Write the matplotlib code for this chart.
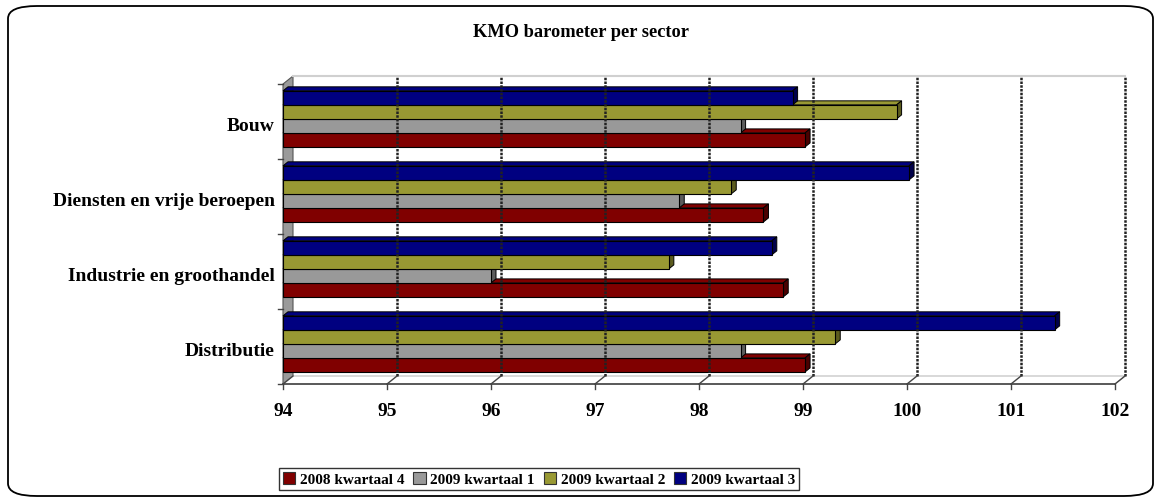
import matplotlib.pyplot as plt
import matplotlib.transforms as mtransforms
from matplotlib.patches import Polygon, FancyBboxPatch, Patch
import numpy as np

plt.rcParams['font.family'] = ['Liberation Serif', 'DejaVu Serif']
plt.rcParams['font.weight'] = 'bold'

sectors = ['Distributie', 'Industrie en groothandel', 'Diensten en vrije beroepen', 'Bouw']
series = ['2008 kwartaal 4', '2009 kwartaal 1', '2009 kwartaal 2', '2009 kwartaal 3']
q4_2008 = [99.02, 98.81, 98.62, 99.02]
q1_2009 = [98.40, 96.00, 97.81, 98.40]
q2_2009 = [99.31, 97.71, 98.31, 99.90]
q3_2009 = [101.42, 98.70, 100.02, 98.90]
xticks = [94, 95, 96, 97, 98, 99, 100, 101, 102]

values = [q4_2008, q1_2009, q2_2009, q3_2009]
front_cols = ['#800000', '#999999', '#999933', '#000080']
side_cols = ['#4a0000', '#5c5c5c', '#5c5c1e', '#00004a']

W, H = 1161, 502
fig = plt.figure(figsize=(W / 100, H / 100), dpi=100)

# rounded chart frame
frame = FancyBboxPatch((8 / W, 5 / H), 1145 / W, 490 / H,
                       boxstyle='round,pad=0,rounding_size=0.025',
                       transform=fig.transFigure, fc='white', ec='black', lw=1.3, zorder=-10)
fig.patches.append(frame)

fig.text(581 / W, 1 - 33 / H, 'KMO barometer per sector', ha='center', va='center', fontsize=13.2)

ax = fig.add_axes([283 / W, 1 - 385 / H, (1115 - 283) / W, (385 - 85) / H])
ax.set_xlim(94, 102)
ax.set_ylim(-0.5, 3.5)
ax.axis('off')

# back plane offset (depth)
back = ax.transData + mtransforms.ScaledTranslation(10 / 100, 8 / 100, fig.dpi_scale_trans)
inv = ax.transData.inverted()

# left wall
p0 = ax.transData.transform([(94, -0.5), (94, 3.5)])
p1 = back.transform([(94, 3.5), (94, -0.5)])
wall = inv.transform(np.vstack([p0, p1]))
ax.add_patch(Polygon(wall, closed=True, fc='#9a9a9a', ec='#555555', lw=0.8, clip_on=False))

# floor
f0 = ax.transData.transform([(94, -0.5), (102, -0.5)])
f1 = back.transform([(102, -0.5), (94, -0.5)])
floor = inv.transform(np.vstack([f0, f1]))
ax.add_patch(Polygon(floor, closed=True, fc='white', ec='#bbbbbb', lw=0.8, clip_on=False))
ax.plot([94, 102], [-0.5, -0.5], color='#444444', lw=1.2, clip_on=False)

# back wall edges and gridlines
ax.plot([94, 102], [3.5, 3.5], color='#d0d0d0', lw=1.5, transform=back, clip_on=False)
for v in xticks[1:]:
    ax.plot([v, v], [-0.5, 3.5], color='#222222', lw=1.8, ls=(0, (1, 0.5)), transform=back, clip_on=False)
for v in xticks:
    a = ax.transData.transform((v, -0.5))
    b = back.transform((v, -0.5))
    seg = inv.transform([a, b])
    ax.plot(seg[:, 0], seg[:, 1], color='#444444', lw=1.0, clip_on=False)
    ax.plot([v, v], [-0.5, -0.56], color='#444444', lw=1.0, clip_on=False)
    ax.text(v, -0.86, str(v), ha='center', va='center', fontsize=14)

# category ticks and labels
for k in range(len(sectors) + 1):
    ax.plot([93.95, 94.0], [k - 0.5, k - 0.5], color='#444444', lw=1.0, clip_on=False)
for k, s in enumerate(sectors):
    ax.text(93.92, k - 0.06, s, ha='right', va='center', fontsize=14)

# bars with pseudo 3D faces
bh = 0.187
px_x = (ax.transData.transform((95, 0)) - ax.transData.transform((94, 0)))[0]
px_y = (ax.transData.transform((0, 1)) - ax.transData.transform((0, 0)))[1]
dx, dy = 5 / px_x, 4 / px_y
pos = np.arange(len(sectors))
for i, vals in enumerate(values):
    yc = pos + 0.035 + (i - 1.5) * bh
    for y, v in zip(yc, vals):
        top = y + bh / 2
        ax.add_patch(Polygon([(94, top), (v, top), (v + dx, top + dy), (94 + dx, top + dy)],
                             closed=True, fc=front_cols[i], ec='black', lw=0.7, clip_on=False))
        ax.add_patch(Polygon([(v, top), (v, top - bh), (v + dx, top - bh + dy), (v + dx, top + dy)],
                             closed=True, fc=side_cols[i], ec='black', lw=0.7, clip_on=False))
    ax.barh(yc, np.array(vals) - 94, left=94, height=bh, color=front_cols[i],
            edgecolor='black', lw=0.8, clip_on=False)

handles = [Patch(fc=c, ec='#333333', lw=0.8) for c in front_cols]
leg = fig.legend(handles, series, loc='center', bbox_to_anchor=(539 / W, 1 - 480 / H), ncol=4,
                 fontsize=11, frameon=True, fancybox=False, edgecolor='black',
                 handlelength=0.8, handleheight=0.8, handletextpad=0.3, columnspacing=0.6,
                 borderpad=0.25, borderaxespad=0)
leg.get_frame().set_linewidth(1.0)

fig.savefig('out.png', dpi=100)
